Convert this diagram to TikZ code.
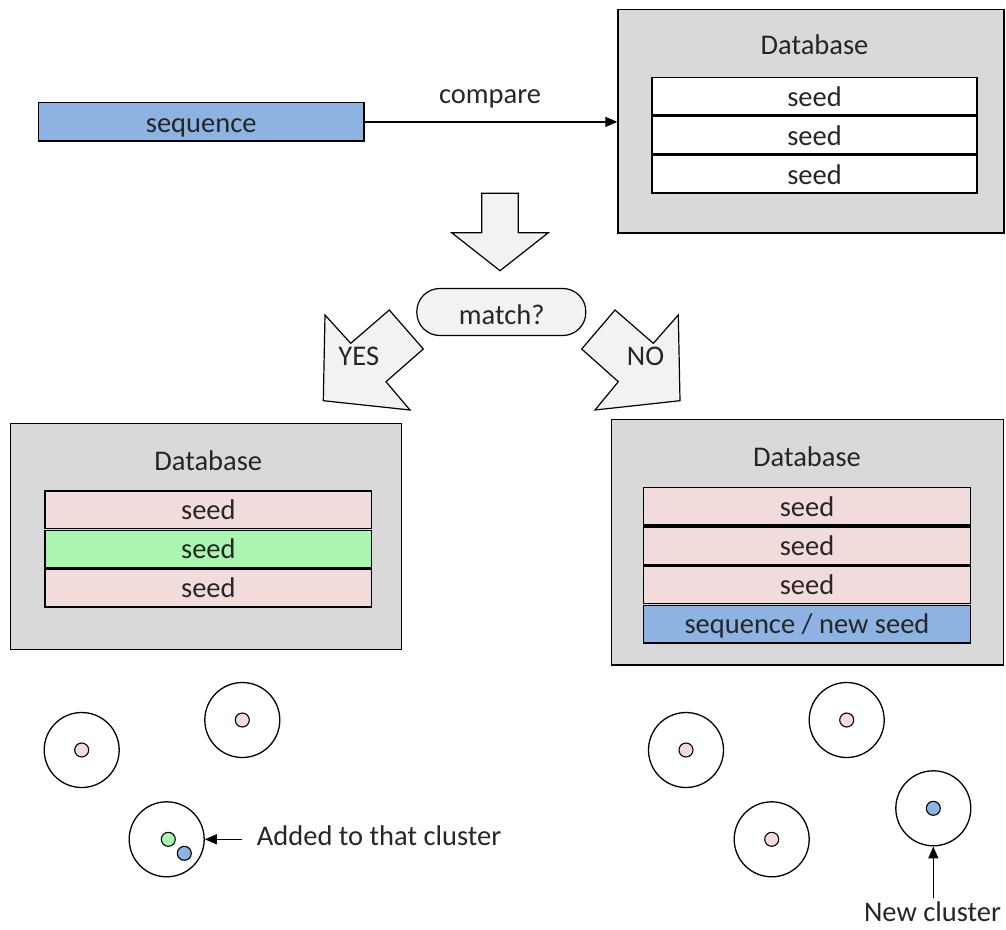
\documentclass[tikz,border=0pt]{standalone}
\usepackage{fontspec}
\setmainfont{Carlito}
\usetikzlibrary{arrows.meta}

\definecolor{seqblue}{HTML}{8DB3E2}
\definecolor{seedpink}{HTML}{F2DCDB}
\definecolor{seedgreen}{HTML}{AAF5AF}
\definecolor{dbgray}{HTML}{D9D9D9}
\definecolor{arrowfill}{HTML}{F2F2F2}
\definecolor{ink}{HTML}{262626}

\tikzset{
  txt/.style={font=\fontsize{28.5}{32}\selectfont, text=ink, inner sep=0pt},
  lbl/.style={txt, anchor=base},
  dbbox/.style={draw=black, line width=1.3pt, fill=dbgray, inner sep=0pt},
  seedrow/.style={draw=black, line width=1.4pt, inner sep=0pt, minimum width=#1,
                  minimum height=37.6pt, txt, text height=21pt, text depth=1.6pt},
  seqbox/.style={draw=black, line width=1.3pt, fill=seqblue, inner sep=0pt, txt,
                 text height=22.5pt, text depth=0.9pt},
  bigarrow/.style={draw=black, line width=1.2pt, fill=arrowfill, line join=miter},
  pill/.style={draw=black, line width=1.2pt, fill=arrowfill, rounded corners=23pt,
               minimum width=169pt, minimum height=47pt, inner sep=0pt},
  cluster/.style={circle, draw=black, line width=1.3pt, minimum size=75pt, inner sep=0pt},
  member/.style={circle, draw=black, line width=1.1pt, minimum size=14pt, inner sep=0pt},
  link/.style={draw=black, line width=1.2pt, -{Triangle[length=12pt,width=10pt]}},
}

\begin{document}
\begin{tikzpicture}[x=1pt, y=-1pt]
\useasboundingbox (0,0) rectangle (1006,929);

% incoming sequence and the database it is compared with
\node[seqbox, minimum width=325.7pt, minimum height=38.3pt] (seq) at (201.2,121.9) {sequence};

\node[dbbox, minimum width=386pt, minimum height=223.5pt] (dbtop) at (811,121.3) {};
\node[lbl] (dbtoplabel) at (814.5,54.3) {Database};
\node[seedrow=325pt, fill=white] (t1) at (814.5,96.3) {seed};
\node[seedrow=325pt, fill=white] (t2) at (814.5,135.3) {seed};
\node[seedrow=325pt, fill=white] (t3) at (814.5,174.3) {seed};

\draw[link] (seq.east) -- (seq.east -| dbtop.west);
\node[lbl] (cmp) at (490,103.3) {compare};

% decision
\draw[bigarrow] (481.7,193.3) -- (518.3,193.3) -- (518.3,232.7) -- (548.3,232.7)
  -- (500,270.7) -- (451.7,232.7) -- (481.7,232.7) -- cycle;
\node[pill] (match) at (501.3,312) {};
\node[lbl] (matchtext) at (501.7,324) {match?};

\draw[bigarrow] (325,315) -- (350.7,343.3) -- (389.3,310) -- (423.3,349)
  -- (386,381.7) -- (410,410) -- (323.3,400.7) -- cycle;
\node[lbl] (yes) at (358.8,365.7) {YES};

\draw[bigarrow] (678.3,315) -- (653.3,343.3) -- (615,310) -- (581.7,349)
  -- (618.3,381.7) -- (595,410) -- (680,400.7) -- cycle;
\node[lbl] (no) at (645.5,365.7) {NO};

% database after a match
\node[dbbox, minimum width=391pt, minimum height=226pt] (dbyes) at (206.2,536.3) {};
\node[lbl] (dbyeslabel) at (208.3,470.7) {Database};
\node[seedrow=326.7pt, fill=seedpink]  (y1) at (208.4,509.9) {seed};
\node[seedrow=326.7pt, fill=seedgreen] (y2) at (208.4,549.0) {seed};
\node[seedrow=326.7pt, fill=seedpink]  (y3) at (208.4,588.1) {seed};

% database without a match
\node[dbbox, minimum width=391.8pt, minimum height=245.7pt] (dbno) at (807.6,542.2) {};
\node[lbl] (dbnolabel) at (807,466.7) {Database};
\node[seedrow=327.4pt, fill=seedpink] (n1) at (807,506.3) {seed};
\node[seedrow=327.4pt, fill=seedpink] (n2) at (807,545.6) {seed};
\node[seedrow=327.4pt, fill=seedpink] (n3) at (807,584.9) {seed};
\node[seedrow=327.4pt, fill=seqblue]  (n4) at (807,624.2) {sequence / new seed};

% clusters: sequence joins an existing one
\node[cluster] (ca) at (81.7,750) {};
\node[cluster] (cb) at (242.3,720) {};
\node[cluster] (cc) at (166.7,839.3) {};
\node[member, fill=seedpink]  (ma) at (ca.center) {};
\node[member, fill=seedpink]  (mb) at (cb.center) {};
\node[member, fill=seedgreen] (mc) at (168.3,839.3) {};
\node[member, fill=seqblue]   (md) at (184.3,853.3) {};

\node[lbl, anchor=base west] (added) at (256.7,845) {Added to that cluster};
\coordinate (addtail) at (242.3,839.3);
\draw[link] (addtail) -- (cc.east);

% clusters: sequence starts a new one
\node[cluster] (cd) at (686,750) {};
\node[cluster] (ce) at (846.7,720) {};
\node[cluster] (cf) at (771.7,839.3) {};
\node[cluster] (cg) at (933.3,808.3) {};
\node[member, fill=seedpink] (me) at (cd.center) {};
\node[member, fill=seedpink] (mf) at (ce.center) {};
\node[member, fill=seedpink] (mg) at (cf.center) {};
\node[member, fill=seqblue]  (mh) at (cg.center) {};

\node[lbl] (newc) at (932.5,921.7) {New cluster};
\coordinate (newtail) at (933.3,898.3);
\draw[link] (newtail) -- (cg.south);
\end{tikzpicture}
\end{document}
